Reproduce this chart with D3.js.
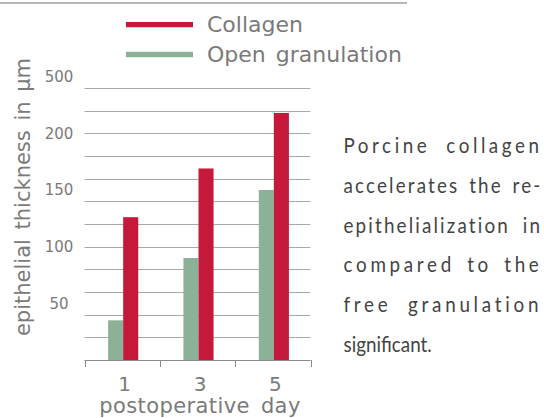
<!DOCTYPE html>
<html>
<head>
<meta charset="utf-8">
<script src="https://cdn.jsdelivr.net/npm/d3@7"></script>
<style>
  body { margin: 0; background: #fff; }
  svg { display: block; }
  text { font-family: "DejaVu Sans", Verdana, sans-serif; fill: #7a7a7a; }
  .note text { font-family: Lato, "Open Sans", sans-serif; fill: #444; }
</style>
</head>
<body>
<svg width="544" height="418"></svg>
<script>
// data
const days = ["1", "3", "5"];
const series = ["Open granulation", "Collagen"];
const openGranulation = [35, 90, 150];
const collagen = [126, 169, 218];
const yTickValues = [50, 100, 150, 200, 250];
const yTickLabels = ["50", "100", "150", "200", "500"];
const noteLines = ["Porcine collagen", "accelerates the re-", "epithelialization in",
  "compared to the", "free granulation", "significant."];

const colors = { "Collagen": "#c4193a", "Open granulation": "#8db196" };
const values = { "Collagen": collagen, "Open granulation": openGranulation };

const svg = d3.select("svg");

const x0 = d3.scaleBand()
  .domain(days)
  .range([84.5, 310.5]);

const x1 = d3.scaleBand()
  .domain(series)
  .range([0, x0.bandwidth()])
  .paddingOuter(1.5)
  .paddingInner(0);

const y = d3.scaleLinear()
  .domain([0, 240])
  .range([360, 88]);

// top rule
svg.append("line")
  .attr("x1", 0).attr("x2", 407)
  .attr("y1", 3).attr("y2", 3)
  .attr("stroke", "#a0a0a0").attr("stroke-width", 1.5);

// grid
svg.append("g")
  .selectAll("line")
  .data(d3.range(20, 241, 20))
  .enter().append("line")
  .attr("x1", x0.range()[0]).attr("x2", x0.range()[1])
  .attr("y1", d => Math.round(y(d)) + 0.5).attr("y2", d => Math.round(y(d)) + 0.5)
  .attr("stroke", "#a8a8a8");

// bars
const groups = svg.append("g")
  .selectAll("g")
  .data(days)
  .enter().append("g")
  .attr("transform", d => `translate(${x0(d) + 1},0)`);

groups.selectAll("rect")
  .data((d, i) => series.map(s => ({ s, v: values[s][i] })))
  .enter().append("rect")
  .attr("x", d => x1(d.s))
  .attr("width", x1.bandwidth())
  .attr("y", d => y(d.v))
  .attr("height", d => y(0) - y(d.v))
  .attr("fill", d => colors[d.s]);

// x axis: line and ticks at band edges
const xAxis = svg.append("g");
xAxis.append("line")
  .attr("x1", x0.range()[0]).attr("x2", x0.range()[1])
  .attr("y1", 360.5).attr("y2", 360.5)
  .attr("stroke", "#8a8a8a");
xAxis.selectAll(".tick")
  .data(days.map(d => x0(d)).concat([x0.range()[1]]))
  .enter().append("line")
  .attr("x1", d => Math.round(d) + 0.5).attr("x2", d => Math.round(d) + 0.5)
  .attr("y1", 360).attr("y2", 367)
  .attr("stroke", "#8a8a8a");
xAxis.selectAll("text")
  .data(days)
  .enter().append("text")
  .attr("x", d => x0(d) + x0.bandwidth() / 2 + 2.5)
  .attr("y", 391)
  .attr("text-anchor", "middle")
  .attr("font-size", 20)
  .text(d => d);

svg.append("text")
  .attr("x", 200).attr("y", 413)
  .attr("text-anchor", "middle")
  .attr("font-size", 21)
  .style("word-spacing", "4px")
  .style("letter-spacing", "0.4px")
  .text("postoperative day");

// y labels
svg.append("g")
  .selectAll("text")
  .data(yTickValues)
  .enter().append("text")
  .attr("x", 59)
  .attr("y", d => y(d))
  .attr("dy", "0.35em")
  .attr("text-anchor", "middle")
  .attr("font-size", 15)
  .text((d, i) => yTickLabels[i]);

svg.append("text")
  .attr("transform", "translate(29.5,197) rotate(-90)")
  .attr("text-anchor", "middle")
  .attr("font-size", 21)
  .style("word-spacing", "3px")
  .text("epithelial thickness in µm");

// legend
const legend = svg.append("g")
  .selectAll("g")
  .data(["Collagen", "Open granulation"])
  .enter().append("g")
  .attr("transform", (d, i) => `translate(126,${24.7 + i * 29.8})`);
legend.append("line")
  .attr("x1", 0).attr("x2", 67)
  .attr("stroke", d => colors[d])
  .attr("stroke-width", 5.3);
legend.append("text")
  .attr("x", 81).attr("y", 7.5)
  .attr("font-size", 22)
  .style("word-spacing", "3px")
  .text(d => d);

// side note, justified: a little of the slack to word gaps, rest to letters
const squeeze = 0.92;
const lineWidth = 199 / squeeze;
const note = svg.append("g")
  .attr("class", "note")
  .attr("transform", `translate(343.5,0) scale(${squeeze},1)`);
note.selectAll("text")
  .data(noteLines)
  .enter().append("text")
  .attr("x", 0)
  .attr("y", (d, i) => 153 + i * 39.8)
  .attr("font-size", 20.5)
  .text(d => d)
  .each(function (d, i) {
    if (i === noteLines.length - 1) return;
    const slack = lineWidth - this.getComputedTextLength();
    const gaps = d.split(" ").length - 1;
    const ws = gaps ? slack * 0.12 / gaps : 0;
    const ls = (slack - ws * gaps) / d.length;
    d3.select(this)
      .style("word-spacing", ws + "px")
      .style("letter-spacing", ls + "px");
  });
</script>
</body>
</html>
